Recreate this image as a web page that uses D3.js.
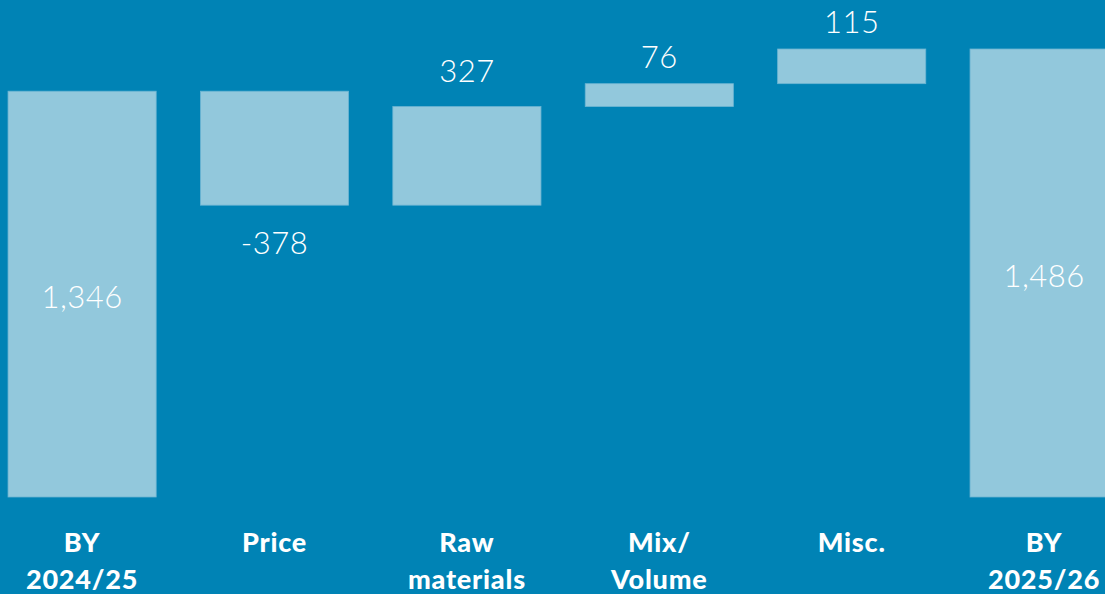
<!DOCTYPE html>
<html>
<head>
<meta charset="utf-8">
<script src="https://cdn.jsdelivr.net/npm/d3@7"></script>
<style>
  html, body { margin: 0; padding: 0; background: #0083b5; overflow: hidden; }
  svg { display: block; }
</style>
</head>
<body>
<svg width="1105" height="594"></svg>
<script>
// chart size
var width = 1105, height = 594;

// data
var categories = [['BY', '2024/25'], ['Price'], ['Raw', 'materials'], ['Mix/', 'Volume'], ['Misc.'], ['BY', '2025/26']];
var values = [1346, -378, 327, 76, 115, 1486];
var isTotal = [true, false, false, false, false, true];

// running totals for the waterfall
var steps = [];
var run = 0;
values.forEach(function(v, i) {
  if (isTotal[i]) {
    steps.push({i: i, y0: 0, y1: v, v: v, total: true});
    run = v;
  } else {
    steps.push({i: i, y0: run, y1: run + v, v: v, total: false});
    run = run + v;
  }
});

var svg = d3.select('svg');

var x = d3.scaleBand()
  .domain(d3.range(categories.length))
  .range([-14.1, 1140.3])
  .paddingInner(0.23)
  .paddingOuter(0.115);

var y = d3.scaleLinear()
  .domain([0, 1486])
  .range([497, 49]);

var fmt = function(v) { return d3.format(',')(v).replace('\u2212', '-'); };

svg.append('g')
  .selectAll('rect')
  .data(steps)
  .enter()
  .append('rect')
  .attr('x', function(d) { return x(d.i); })
  .attr('width', x.bandwidth())
  .attr('y', function(d) { return y(Math.max(d.y0, d.y1)); })
  .attr('height', function(d) { return Math.abs(y(d.y0) - y(d.y1)); })
  .attr('fill', '#92c8dc')
  .attr('stroke', '#6bb5d3')
  .attr('stroke-width', 0.8);

// value labels
svg.append('g')
  .selectAll('text')
  .data(steps)
  .enter()
  .append('text')
  .attr('x', function(d) { return x(d.i) + x.bandwidth() / 2; })
  .attr('y', function(d) {
    if (d.total) return (y(0) + y(d.y1)) / 2 + 14;
    if (d.v < 0) return y(d.y1) + 49;
    return y(d.y1) - (d.i === 2 ? 25 : 16);
  })
  .attr('text-anchor', 'middle')
  .attr('fill', '#ffffff')
  .attr('font-family', 'Lato, sans-serif')
  .attr('font-weight', 300)
  .attr('font-size', 31)
  .attr('letter-spacing', 0.5)
  .text(function(d) { return fmt(d.v); });

// category labels
var cat = svg.append('g')
  .selectAll('text')
  .data(categories)
  .enter()
  .append('text')
  .attr('x', function(d, i) { return x(i) + x.bandwidth() / 2; })
  .attr('y', 552)
  .attr('text-anchor', 'middle')
  .attr('fill', '#ffffff')
  .attr('font-family', 'Lato, sans-serif')
  .attr('font-weight', 900)
  .attr('font-size', 27)
  .attr('letter-spacing', 0.8);

cat.selectAll('tspan')
  .data(function(d) { return d; })
  .enter()
  .append('tspan')
  .attr('x', function() { return d3.select(this.parentNode).attr('x'); })
  .attr('dy', function(d, j) { return j === 0 ? 0 : 37; })
  .text(function(d) { return d; });
</script>
</body>
</html>
